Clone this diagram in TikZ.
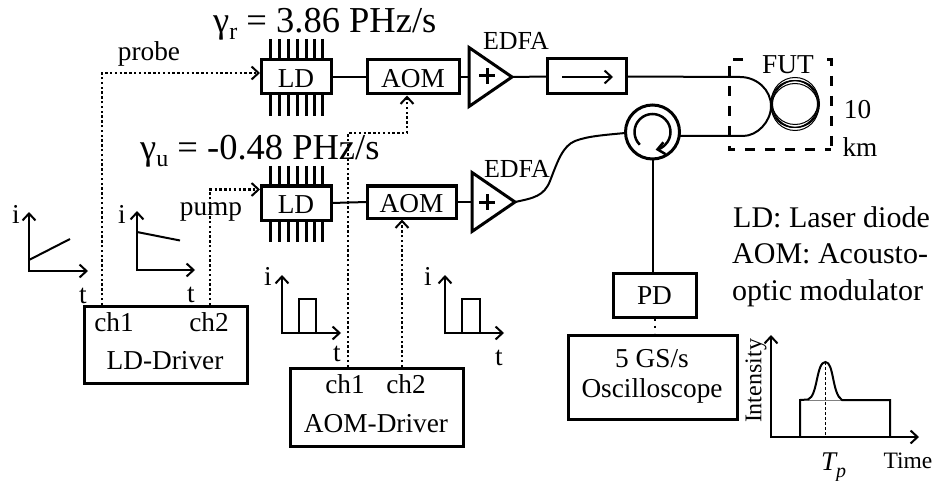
\documentclass[tikz,border=0pt]{standalone}
\usepackage{fontspec}
\setmainfont{Liberation Serif}
\usetikzlibrary{arrows.meta,shapes.geometric,calc}
\newcommand{\fs}[1]{\fontsize{#1pt}{#1pt}\selectfont}
\tikzset{
  x=1pt,y=-1pt,
  box/.style={draw=black,line width=3pt,inner sep=0pt,outer sep=0pt,fill=none},
  txt/.style={inner sep=0pt,outer sep=0pt,font=\fs{27.3}},
  lbl/.style={inner sep=0pt,outer sep=0pt,font=\fs{27.3},anchor=base},
  wire/.style={line width=2pt,draw=black},
  sig/.style={line width=2.2pt,dash pattern=on 2.4pt off 2.4pt,draw=black},
  barb/.style={-{Straight Barb[length=7pt,width=13pt,line width=2pt]}},
  axis/.style={line width=2pt,barb},
  trace/.style={line width=2pt},
  amp/.style={draw=black,line width=3pt,isosceles triangle,isosceles triangle stretches,
    isosceles triangle apex angle=70,minimum width=59pt,minimum height=43pt,inner sep=0pt,outer sep=0pt,anchor=apex},
  pin/.style={line width=3pt}
}
\begin{document}
\begin{tikzpicture}
\useasboundingbox (0,0) rectangle (936,481);
% lasers
\node[box,minimum width=70pt,minimum height=34pt] (ld1) at (296,77) {};
\node[txt] (ld1t) at (296,78.5) {LD};
\node[box,minimum width=70pt,minimum height=34pt] (ld2) at (296,203) {};
\node[txt] (ld2t) at (296,204.5) {LD};
\foreach \p in {270,279,288,297,306,314,322}{
  \draw[pin] (\p,39) -- (\p,60);
  \draw[pin] (\p,94) -- (\p,116);
  \draw[pin] (\p,166) -- (\p,186);
  \draw[pin] (\p,220) -- (\p,242);
}
% AOMs
\node[box,minimum width=92pt,minimum height=34pt] (aom1) at (413,77) {};
\node[txt] (aom1t) at (413,78.5) {AOM};
\node[box,minimum width=89pt,minimum height=32pt] (aom2) at (411.5,202) {};
\node[txt] (aom2t) at (411.5,203.5) {AOM};
% EDFAs
\node[amp] (edfa1) at (512,77) {};
\node[amp] (edfa2) at (515,202) {};
\draw[line width=3pt] (479,76) -- (495,76) (487,68) -- (487,84);
\draw[line width=3pt] (479,202) -- (495,202) (487,194) -- (487,210);
\node[txt,font=\fs{26}] (e1) at (516,41) {EDFA};
\node[txt,font=\fs{26}] (e2) at (517,169) {EDFA};
% isolator
\node[box,minimum width=79pt,minimum height=35pt] (iso) at (586.5,76.5) {};
\coordinate (isoa) at (562,77);
\coordinate (isob) at (613,77);
\draw[wire,barb] (isoa) -- (isob);
% circulator
\node[draw=black,circle,line width=3pt,minimum size=54pt,inner sep=0pt,outer sep=0pt] (circ) at (652.5,132) {};
\draw[line width=2.5pt,-{Straight Barb[length=7pt,width=12pt,line width=2.5pt]}] ($(circ)+(225:18pt)$) arc[start angle=225,end angle=-80,radius=18pt];
% FUT
\coordinate (fa) at (740,77);
\coordinate (fb) at (771,106);
\coordinate (fc) at (743,136);
\foreach \dx/\dy in {0/-3,0/3,-1/0,1/0,0/0}{
  \draw[line width=1pt] (795+\dx,104+\dy) circle[radius=23.5pt];
}
\draw[line width=3pt,dash pattern=on 10pt off 10pt] (743,60) -- (729,60) -- (729,150) -- (831,150);
\draw[line width=3pt,dash pattern=on 10pt off 10pt] (827,60) -- (831,60) -- (831,150);
\node[txt] (fut) at (788,65) {FUT};
\node[txt] (ten) at (857.5,110) {10};
\node[txt] (km) at (860,147) {km};
% optical wires
\draw[wire] (ld1.east) -- (aom1.west);
\draw[wire] (aom1.east) -- (470,77);
\draw[wire] (ld2.east) -- (aom2.west);
\draw[wire] (aom2.east) -- (472,202);
\draw[wire] (512,77) -- (iso.west);
\draw[wire] (iso.east) -- (fa) .. controls (757,77) and (771,90) .. (fb) .. controls (771,122) and (757,136) .. (fc) -- (680,136);
\draw[wire] (515,202) .. controls (534,198) and (544,196) .. (550,181) .. controls (558,160) and (563,146) .. (575,141) .. controls (588,136) and (605,135) .. (625,133);
% PD and scope
\node[box,minimum width=83pt,minimum height=44pt] (pd) at (654.5,295) {};
\node[txt] (pdt) at (654.5,296) {PD};
\node[box,minimum width=169pt,minimum height=84pt] (osc) at (652.5,377) {};
\node[txt] (osct1) at (652,359) {5 GS/s};
\node[txt] (osct2) at (652,391) {Oscilloscope};
\draw[wire] (circ.south) -- (circ.south |- pd.north);
\draw[line width=2.5pt,dash pattern=on 2.5pt off 5pt] (655,318) -- (655,333);
% drivers
\node[box,minimum width=163pt,minimum height=77pt] (ldd) at (165.5,344.5) {};
\node[lbl] (ldc1) at (114,331) {ch1};
\node[lbl] (ldc2) at (209,331) {ch2};
\node[lbl] (lddt) at (165,369) {LD-Driver};
\node[box,minimum width=173pt,minimum height=78pt] (aomd) at (376.5,407) {};
\node[lbl] (ac1) at (345,393) {ch1};
\node[lbl] (ac2) at (406,393) {ch2};
\node[lbl] (aomdt) at (376,432) {AOM-Driver};
% signal lines
\coordinate (s1) at (102,305);
\coordinate (s2) at (210,305);
\coordinate (s3) at (348,367);
\coordinate (s4) at (402,367);
\draw[sig,barb] (s1) -- (102,73) -- (260,73);
\draw[sig,barb] (s2) -- (210,189.5) -- (260,189.5);
\draw[sig,barb] (s3) -- (348,133) -- (407,133) -- (407,95.5);
\draw[sig,barb] (s4) -- (402,219.5);
\node[lbl] (probe) at (149,61) {probe};
\node[lbl] (pump) at (211,215) {pump};
% chirp labels
\node[inner sep=0pt,anchor=base west,font=\fs{36.5}] (gr) at (213,33) {γ\raisebox{-7pt}{\fs{24}r} = 3.86 PHz/s};
\node[inner sep=0pt,anchor=base west,font=\fs{36.5}] (gu) at (140,160) {γ\raisebox{-7pt}{\fs{24}u} = -0.48 PHz/s};
% plots
\draw[axis] (29,272) -- (29,212);
\draw[axis] (28,271) -- (88,271);
\draw[trace] (29,260) -- (70,239);
\node[lbl] (i1) at (16,223) {i};
\node[lbl] (t1) at (83,303) {t};
\draw[axis] (137,271) -- (137,211);
\draw[axis] (136,270) -- (195,270);
\draw[trace] (137,232) -- (180,240.5);
\node[lbl] (i2) at (122,223) {i};
\node[lbl] (t2) at (191,302) {t};
\draw[axis] (282,334) -- (282,275);
\draw[axis] (281,333) -- (341,333);
\draw[trace] (298.5,333) -- (298.5,299) -- (316,299) -- (316,333);
\node[lbl] (i3) at (268,285) {i};
\node[lbl] (t3) at (337,361) {t};
\draw[axis] (445,334) -- (445,275);
\draw[axis] (444,333) -- (504,333);
\draw[trace] (462,333) -- (462,299) -- (480,299) -- (480,333);
\node[lbl] (i4) at (428,285) {i};
\node[lbl] (t4) at (499,365) {t};
% legend
\node[inner sep=0pt,anchor=base west,font=\fs{30}] (lg1) at (733,227) {LD: Laser diode};
\node[inner sep=0pt,anchor=base west,font=\fs{30}] (lg2) at (732,263) {AOM: Acousto-};
\node[inner sep=0pt,anchor=base west,font=\fs{30}] (lg3) at (732,300) {optic modulator};
% intensity plot
\draw[axis] (771,438) -- (771,335);
\draw[axis] (770,437) -- (919,437);
\draw[line width=1pt,draw=gray] (808,400) -- (842,400);
\draw[trace] (800,437) -- (800,400) -- (808,399.5) .. controls (818,396) and (816,362) .. (825.5,362) .. controls (834,362) and (832,394) .. (842,400) -- (890,400) -- (890,437);
\draw[line width=1pt,dash pattern=on 3pt off 2pt] (825.5,362) -- (825.5,437);
\node[inner sep=0pt,rotate=90,font=\fs{24}] (inten) at (756,381) {Intensity};
\node[inner sep=0pt,anchor=base west,font=\fs{27}\itshape] (tp) at (821,470) {T\raisebox{-7pt}{\fs{20}p}};
\node[inner sep=0pt,font=\fs{23.5}] (time) at (908,461) {Time};
\end{tikzpicture}
\end{document}
